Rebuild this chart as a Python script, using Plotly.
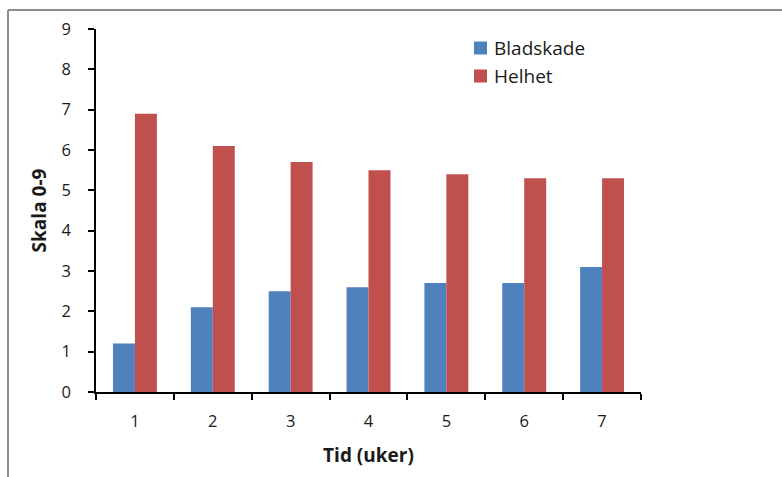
import plotly.graph_objects as go

weeks = ["1", "2", "3", "4", "5", "6", "7"]
bladskade = [1.2, 2.1, 2.5, 2.6, 2.7, 2.7, 3.1]
helhet = [6.9, 6.1, 5.7, 5.5, 5.4, 5.3, 5.3]
y_ticks = [0, 1, 2, 3, 4, 5, 6, 7, 8, 9]

series = [("Bladskade", bladskade, "#4F81BD"), ("Helhet", helhet, "#C0504D")]

font_family = "Open Sans, Noto Sans, sans-serif"
text_color = "#1a1a1a"

fig = go.Figure()
for name, vals, color in series:
    fig.add_trace(go.Bar(x=weeks, y=vals, name=name, showlegend=False,
                         marker=dict(color=color, line=dict(width=0))))

# plot area: x 96..641 px, y 29..392 px
L, R, T, B = 96, 641, 29, 392
W, H = R - L, B - T


def px_x(p):
    return (p - L) / W


def px_y(p):
    return (B - p) / H


shapes = [
    dict(type="line", xref="paper", yref="paper",
         x0=px_x(8), x1=px_x(800), y0=px_y(10), y1=px_y(10),
         line=dict(color="#8c8c8c", width=2)),
    dict(type="line", xref="paper", yref="paper",
         x0=px_x(8), x1=px_x(8), y0=px_y(10), y1=px_y(500),
         line=dict(color="#8c8c8c", width=2)),
]
annotations = []

# legend: colour swatch + label per series
for i, (name, _, color) in enumerate(series):
    cy = 48 + 28 * i
    shapes.append(dict(type="rect", xref="paper", yref="paper",
                       x0=px_x(474), x1=px_x(487), y0=px_y(cy + 6.5), y1=px_y(cy - 6.5),
                       fillcolor=color, line=dict(width=0)))
    annotations.append(dict(text=name, xref="paper", yref="paper",
                            x=px_x(492), y=px_y(cy), xanchor="left", yanchor="middle",
                            showarrow=False, font=dict(size=19, color=text_color)))

fig.update_layout(
    width=782, height=477,
    margin=dict(l=L, r=782 - R, t=T, b=477 - B, pad=0),
    paper_bgcolor="white", plot_bgcolor="white",
    barmode="group", bargap=0.436, bargroupgap=0,
    font=dict(family=font_family, size=16, color=text_color),
    xaxis=dict(
        type="category", showline=True, linecolor="black", linewidth=1.5,
        ticks="outside", tickson="boundaries", ticklen=6, tickcolor="black",
        tickwidth=1.5, ticklabelstandoff=13, showgrid=False,
        tickfont=dict(size=16.5),
        title=dict(text="<b>Tid (uker)</b>", font=dict(size=19, color=text_color),
                   standoff=18),
    ),
    yaxis=dict(
        range=[0, 9], tickvals=y_ticks, showline=True, linecolor="black",
        linewidth=1.5, ticks="outside", ticklen=6, tickcolor="black",
        tickwidth=1.5, ticklabelstandoff=14, showgrid=False, zeroline=False,
        tickfont=dict(size=16.5),
        title=dict(text="<b>Skala 0-9</b>", font=dict(size=19, color=text_color),
                   standoff=10),
    ),
    shapes=shapes,
    annotations=annotations,
)

fig.write_html("out.html")
